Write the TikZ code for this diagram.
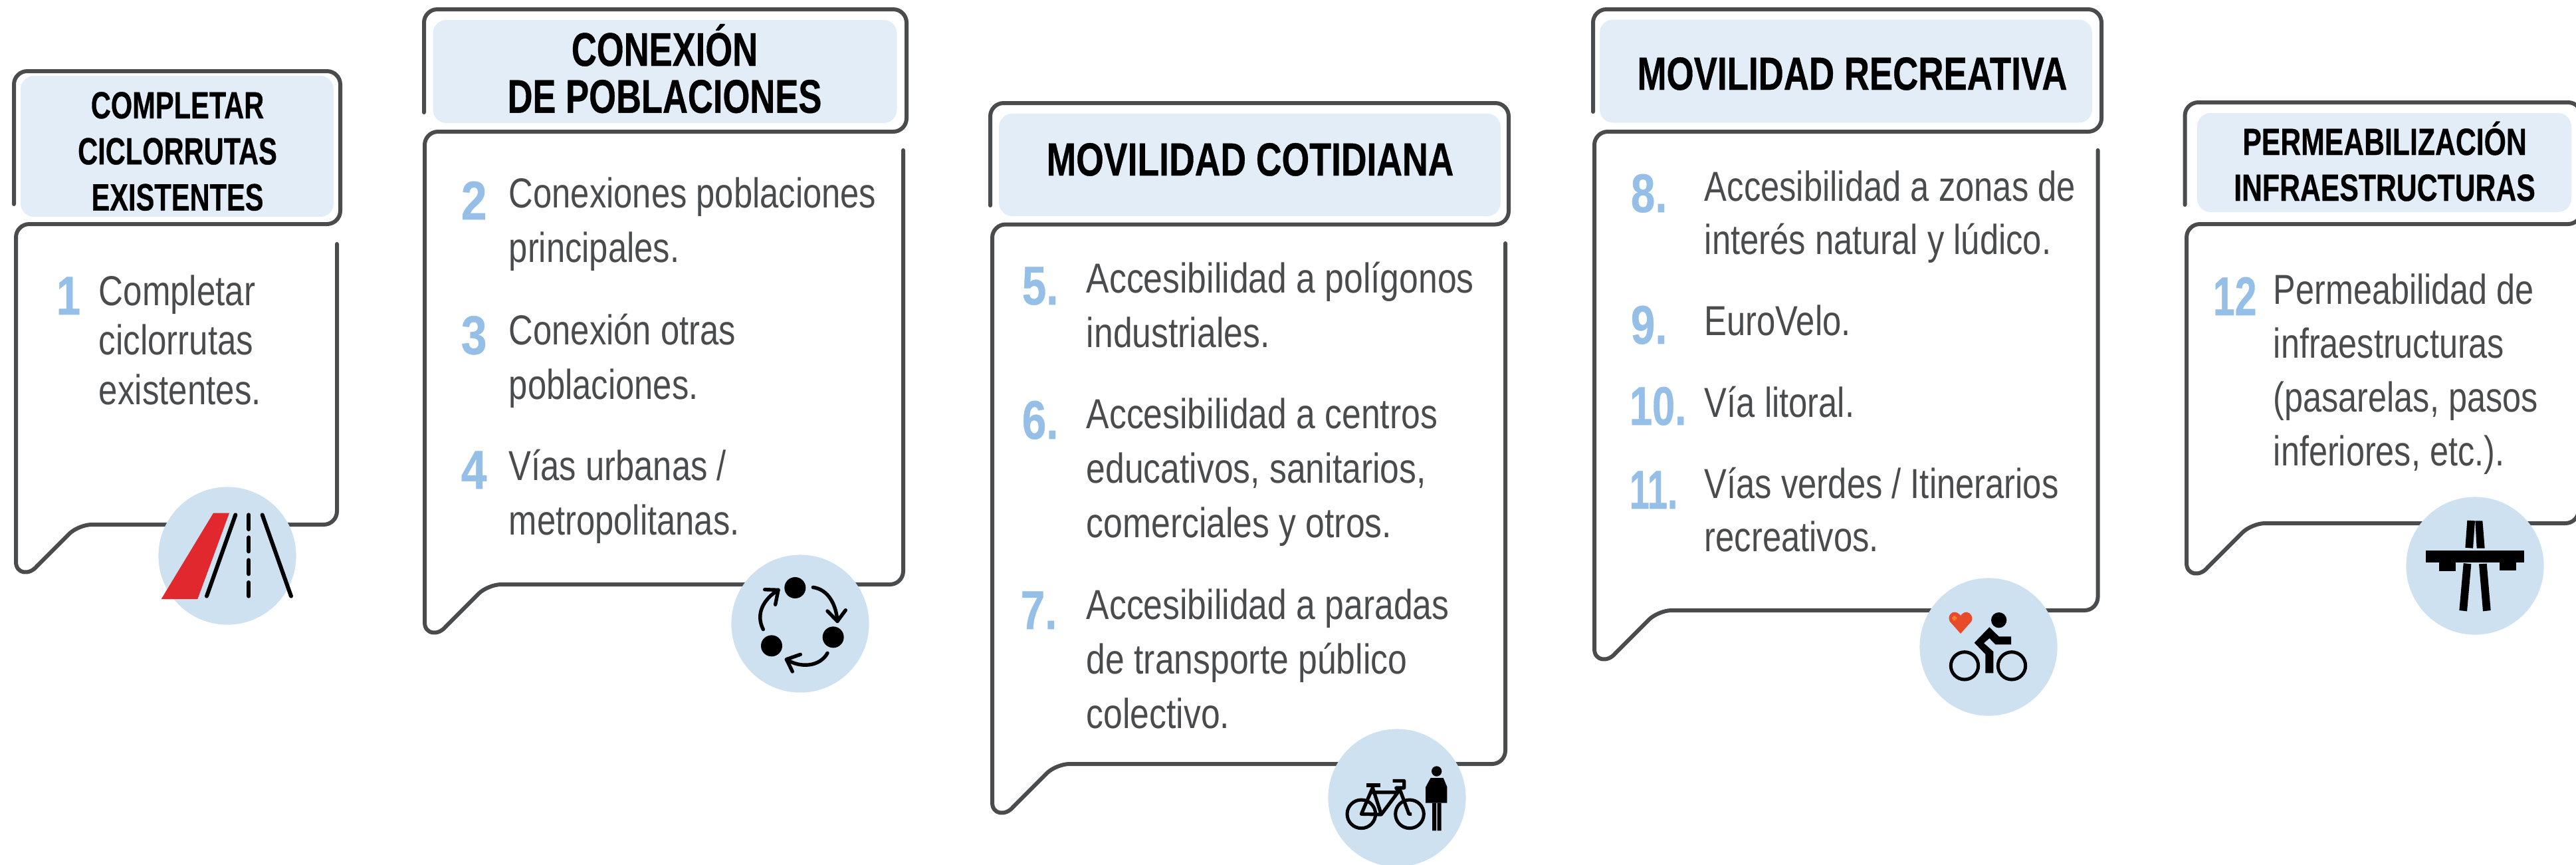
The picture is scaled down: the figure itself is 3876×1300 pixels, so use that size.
\documentclass[tikz,border=0pt]{standalone}
\usepackage{graphicx}
\usepackage{fontspec}
\setmainfont{Liberation Sans}
\newfontfamily\heavy[BoldFeatures={FakeBold=0.6}]{Liberation Sans}
\definecolor{edge}{HTML}{4A4B4D}
\definecolor{headbg}{HTML}{E3EDF7}
\definecolor{iconbg}{HTML}{CEE1F1}
\definecolor{numblue}{HTML}{95BFE6}
\definecolor{roadred}{HTML}{E1282F}
\definecolor{heartred}{HTML}{E84B2A}
\definecolor{heartplus}{HTML}{F58220}
\tikzset{
  outline/.style={draw=edge,line width=1.5pt,rounded corners=5pt,line cap=round,line join=round},
  tailtip/.style={draw=edge,line width=1.5pt,line cap=round,line join=round},
  headbox/.style={fill=headbg,rounded corners=5pt},
  iconcircle/.style={circle,fill=iconbg,inner sep=0pt,minimum size=51.8pt},
  zoomed/.style={x=0.08333pt,y=-0.08333pt},
  ink/.style={line cap=round,line join=round,draw=black},
  txt/.style={inner sep=0pt,anchor=base west,text=edge},
  num/.style={inner sep=0pt,anchor=base west,text=numblue},
  ttl/.style={inner sep=0pt,anchor=base,text=black}
}
% name, x, y, xscale, line spacing, text
\newcommand\bt[6]{\node[txt] (#1) at (#2,#3) {\scalebox{#4}[1]{\fontsize{15.75pt}{#5}\selectfont\begin{tabular}[t]{@{}l@{}}#6\end{tabular}}};}
% name, x, y, xscale, text
\newcommand\nm[5]{\node[num] (#1) at (#2,#3) {\scalebox{#4}[1]{\fontsize{20.5pt}{24pt}\selectfont\heavy\bfseries #5}};}
% name, x, y, xscale, size, spacing, text
\newcommand\tl[7]{\node[ttl] (#1) at (#2,#3) {\scalebox{#4}[1]{\fontsize{#5}{#6}\selectfont\heavy\bfseries\begin{tabular}[t]{@{}c@{}}#7\end{tabular}}};}
\begin{document}
\begin{tikzpicture}[x=0.25pt,y=-0.25pt]
\useasboundingbox (0,0) rectangle (3876,1300);
\clip (0,0) rectangle (3876,1300);

% ---------- bubble 1
\fill[headbox] (31,114) rectangle (502,326);
\draw[outline] (21,307) -- (21,107) -- (512,107) -- (512,337) -- (24,337) -- (24,845);
\draw[tailtip] (24,845) .. controls (24,863) and (44,866) .. (56,851);
\draw[outline] (56,851) -- (118,789) -- (507,789) -- (507,367);
\tl{t1}{267}{178}{0.73}{14.25pt}{17.3pt}{COMPLETAR\\CICLORRUTAS\\EXISTENTES}
\nm{n1}{84}{473}{0.8}{1}
\bt{b1}{148}{459}{0.81}{18.65pt}{Completar\\ciclorrutas\\existentes.}
\node[iconcircle] (c1) at (342,836) {};
\begin{scope}[shift={(220,720)},zoomed]
\fill[roadred] (303,155) -- (375,155) -- (232,543) -- (68,543) -- cycle;
\draw[ink,line width=1.5pt] (403,163) -- (273,530);
\draw[ink,line width=1.5pt] (463,163) -- (463,228) (463,265) -- (463,328) (463,367) -- (463,430) (463,468) -- (463,530);
\draw[ink,line width=1.5pt] (524,163) -- (654,530);
\end{scope}

% ---------- bubble 2
\fill[headbox] (651.5,30) rectangle (1349.5,185);
\draw[outline] (638,169) -- (638,14) -- (1364,14) -- (1364,198) -- (639,198) -- (639,936);
\draw[tailtip] (639,936) .. controls (639,954) and (659,957) .. (671,942);
\draw[outline] (671,942) -- (734,879) -- (1359,879) -- (1359,226);
\tl{t2}{1000}{99}{0.74}{17.75pt}{17.5pt}{CONEXIÓN\\DE POBLACIONES}
\nm{n2}{693}{330}{0.85}{2}
\nm{n3}{693}{532.5}{0.85}{3}
\nm{n4}{693}{735}{0.85}{4}
\bt{b2}{765}{312.5}{0.805}{20.5pt}{Conexiones poblaciones\\principales.}
\bt{b3}{765}{518}{0.805}{20.5pt}{Conexión otras\\poblaciones.}
\bt{b4}{765}{722.5}{0.805}{20.5pt}{Vías urbanas /\\metropolitanas.}
\node[iconcircle] (c2) at (1204,938) {};
\begin{scope}[shift={(1090,820)},zoomed]
\fill[black] (319,192) circle [radius=48] (491,415) circle [radius=48] (213,454) circle [radius=48];
\draw[ink,line width=1.35pt] (400,190) .. controls (470,200) and (505,270) .. (510,343);
\draw[ink,line width=1.35pt] (465,297) -- (510,343) -- (547,293);
\draw[ink,line width=1.35pt] (465,487) .. controls (430,550) and (340,555) .. (280,515);
\draw[ink,line width=1.35pt] (343,493) -- (280,515) -- (307,570);
\draw[ink,line width=1.35pt] (175,380) .. controls (140,310) and (175,245) .. (243,202);
\draw[ink,line width=1.35pt] (182,200) -- (243,202) -- (230,268);
\end{scope}

% ---------- bubble 3
\fill[headbox] (1503,171) rectangle (2258,325);
\draw[outline] (1490,309) -- (1490,155) -- (2270,155) -- (2270,337.5) -- (1493,337.5) -- (1493,1207);
\draw[tailtip] (1493,1207) .. controls (1493,1225) and (1513,1228) .. (1525,1213);
\draw[outline] (1525,1213) -- (1589,1149) -- (2265,1149) -- (2265,366);
\tl{t5}{1881}{264}{0.765}{17.5pt}{17.5pt}{MOVILIDAD COTIDIANA}
\nm{n5}{1537}{458}{0.8}{5.}
\nm{n6}{1537}{660}{0.8}{6.}
\nm{n7}{1535}{946}{0.8}{7.}
\bt{b5}{1634}{440}{0.82}{20.5pt}{Accesibilidad a polígonos\\industriales.}
\bt{b6}{1634}{644}{0.82}{20.5pt}{Accesibilidad a centros\\educativos, sanitarios,\\comerciales y otros.}
\bt{b7}{1634}{931}{0.82}{20.5pt}{Accesibilidad a paradas\\de transporte público\\colectivo.}
\node[iconcircle] (c3) at (2102,1200) {};
\begin{scope}[shift={(1980,1080)},zoomed]
\draw[ink,line width=1.25pt] (205,433) circle [radius=64] (423,433) circle [radius=64];
\draw[ink,line width=1.3pt,line cap=butt] (260,305) -- (205,433) -- (295,435) -- (258,320) (250,335) -- (370,335) -- (295,435) (378,320) -- (420,433) -- (432,433);
\draw[ink,line width=1.5pt,line cap=butt] (228,302) -- (290,302);
\draw[ink,line width=1.3pt,line cap=butt] (347,283) -- (398,283) -- (398,315) -- (362,315) -- (375,335);
\fill[black] (545,240) circle [radius=23];
\fill[black] (518,270) -- (575,270) -- (592,310) -- (592,383) -- (495,383) -- (495,312) -- cycle;
\fill[black] (525,383) rectangle (543,508) (548,383) rectangle (566,508);
\end{scope}

% ---------- bubble 4
\fill[headbox] (2407,29.5) rectangle (3148,184.5);
\draw[outline] (2397,168) -- (2397,14) -- (3162,14) -- (3162,198) -- (2399,198) -- (2399,976);
\draw[tailtip] (2399,976) .. controls (2399,994) and (2419,997) .. (2431,982);
\draw[outline] (2431,982) -- (2495,918) -- (3156.5,918) -- (3156.5,226);
\tl{t8}{2787}{135}{0.755}{17.5pt}{17.5pt}{MOVILIDAD RECREATIVA}
\nm{n8}{2453}{319}{0.8}{8.}
\nm{n9}{2453}{517}{0.8}{9.}
\nm{n10}{2451}{639}{0.75}{10.}
\nm{n11}{2451}{765}{0.66}{11.}
\bt{b8}{2564}{302}{0.805}{20.1pt}{Accesibilidad a zonas de\\interés natural y lúdico.}
\bt{b9}{2564}{504}{0.805}{20.1pt}{EuroVelo.}
\bt{b10}{2564}{627}{0.805}{20.1pt}{Vía litoral.}
\bt{b11}{2564}{749.5}{0.805}{20.1pt}{Vías verdes / Itinerarios\\recreativos.}
\node[iconcircle] (c4) at (2992,973) {};
\begin{scope}[shift={(2870,860)},zoomed]
\draw[ink,line width=1.25pt] (258,424) circle [radius=62] (471,424) circle [radius=62];
\fill[black] (413,218) circle [radius=35];
\fill[black] (370,250) -- (413,292) -- (468,292) -- (468,328) -- (397,328) -- (370,300) -- (345,322) -- (388,360) -- (388,457) -- (352,457) -- (352,372) -- (302,320) -- cycle;
\fill[heartred] (240,279) -- (192,225) .. controls (178,200) and (200,178) .. (215,182) .. controls (228,184) and (236,192) .. (240,198) .. controls (246,190) and (256,181) .. (268,182) .. controls (285,184) and (300,205) .. (288,225) -- cycle;
\fill[heartplus] (207,198) rectangle (217,220) (201,204) rectangle (223,214);
\end{scope}

% ---------- bubble 5
\fill[headbox] (3306,170) rectangle (3869,319);
\draw[outline] (3287.5,308) -- (3287.5,154) -- (3884,154) -- (3884,337) -- (3290,337) -- (3290,847);
\draw[tailtip] (3290,847) .. controls (3290,865) and (3310,868) .. (3322,853);
\draw[outline] (3322,853) -- (3388,787) -- (3880,787) -- (3880,700);
\tl{t12}{3588}{233}{0.75}{14.25pt}{17.25pt}{PERMEABILIZACIÓN\\INFRAESTRUCTURAS}
\nm{n12}{3329}{474}{0.72}{12}
\bt{b12}{3420}{457}{0.8}{20.3pt}{Permeabilidad de\\infraestructuras\\(pasarelas, pasos\\inferiores, etc.).}
\node[iconcircle] (c5) at (3724,851) {};
\begin{scope}[shift={(3610,730)},zoomed]
\fill[black] (307,158) -- (342,160) -- (333,284) -- (298,281) -- cycle;
\fill[black] (343,160) -- (376,160) -- (386,284) -- (350,284) -- cycle;
\fill[black] (121,295) rectangle (563,348);
\fill[black] (179,348) rectangle (254,388);
\fill[black] (453,348) rectangle (529,385);
\fill[black] (290,351) -- (325,355) -- (306,568) -- (271,564) -- cycle;
\fill[black] (360,355) -- (395,353) -- (413,564) -- (378,568) -- cycle;
\end{scope}
\end{tikzpicture}
\end{document}
